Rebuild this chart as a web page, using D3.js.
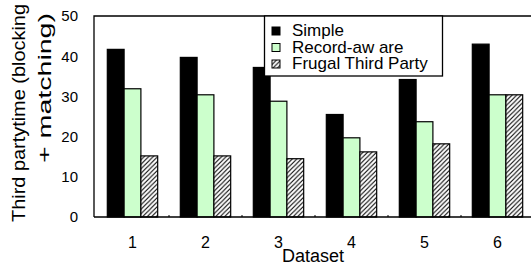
<!DOCTYPE html>
<html>
<head>
<meta charset="utf-8">
<script src="https://cdn.jsdelivr.net/npm/d3@7"></script>
<style>
body{margin:0;background:#fff}
svg{display:block}
text{font-family:"Liberation Sans",Arial,sans-serif;fill:#000}
</style>
</head>
<body>
<svg id="mySVG" width="531" height="266"></svg>
<script>
//---data---
var datasets=["1","2","3","4","5","6"]
var seriesNames=["Simple","Record-aw are","Frugal Third Party"]
var simpleVals=[41.7,39.7,37.2,25.5,34.2,43.0]
var recordVals=[31.9,30.4,28.8,19.7,23.7,30.4]
var frugalVals=[15.2,15.2,14.5,16.2,18.2,30.4]
var yTicks=[0,10,20,30,40,50]

var seriesVals=[simpleVals,recordVals,frugalVals]
var seriesFill=["#000","#ccffcc","url(#hatch)"]

var svg=d3.select("#mySVG")

//---hatch pattern---
var pat=svg.append("defs").append("pattern")
    .attr("id","hatch")
    .attr("patternUnits","userSpaceOnUse")
    .attr("width",4.5).attr("height",4.5)
pat.append("rect").attr("width",4.5).attr("height",4.5).attr("fill","#fff")
pat.append("path")
    .attr("d","M-1,1 L1,-1 M0,4.5 L4.5,0 M3.5,5.5 L5.5,3.5")
    .attr("stroke","#000").attr("stroke-width",1.1)

var plotLeft=94, plotTop=16, plotBottom=217

//---scales---
var x=d3.scaleBand().domain(datasets).range([96,534]).paddingInner(0.31).paddingOuter(0.155)
var xs=d3.scaleBand().domain(d3.range(3)).range([0,x.bandwidth()])
var y=d3.scaleLinear().domain([0,50]).range([plotBottom,plotTop])

//---bars---
var groups=svg.append("g").selectAll("g").data(datasets).enter().append("g")
    .attr("transform",function(d){return "translate("+x(d)+",0)"})
groups.selectAll("rect").data(function(d,i){
        return seriesVals.map(function(s,k){return {k:k,v:s[i]}})
    })
    .enter().append("rect")
    .attr("x",function(d){return xs(d.k)})
    .attr("width",xs.bandwidth())
    .attr("y",function(d){return y(d.v)})
    .attr("height",function(d){return plotBottom-y(d.v)})
    .attr("fill",function(d){return seriesFill[d.k]})
    .attr("stroke","#000").attr("stroke-width",1.2)

//---frame---
svg.append("path")
    .attr("d","M"+plotLeft+","+plotBottom+" L"+plotLeft+","+plotTop+" L540,"+plotTop+" M"+plotLeft+","+plotBottom+" L540,"+plotBottom)
    .attr("stroke","#000").attr("stroke-width",1.3).attr("fill","none")

//---small ticks between groups---
var step=x.step()
svg.append("g").selectAll("line").data(datasets.slice(1)).enter().append("line")
    .attr("x1",function(d){return x(d)-(step-x.bandwidth())/2})
    .attr("x2",function(d){return x(d)-(step-x.bandwidth())/2})
    .attr("y1",plotBottom-2).attr("y2",plotBottom)
    .attr("stroke","#000")

//---y axis labels---
var yAxis=svg.append("g").attr("transform","translate("+plotLeft+",0)")
    .call(d3.axisLeft(y).tickValues(yTicks).tickSize(0).tickPadding(16))
yAxis.select(".domain").remove()
yAxis.selectAll("text").attr("font-size",15).style("font-family","Liberation Sans,Arial,sans-serif")

//---x axis labels---
var xAxis=svg.append("g").attr("transform","translate(0,"+plotBottom+")")
    .call(d3.axisBottom(x).tickSize(0).tickPadding(20))
xAxis.select(".domain").remove()
xAxis.selectAll("text").attr("font-size",16).style("font-family","Liberation Sans,Arial,sans-serif")

//---titles---
svg.append("text").attr("x",313).attr("y",262).attr("text-anchor","middle")
    .attr("font-size",18).text("Dataset")
svg.append("text").attr("transform","translate(25,222) rotate(-90)")
    .attr("font-size",19).attr("textLength",218).attr("lengthAdjust","spacingAndGlyphs")
    .text("Third partytime (blocking")
svg.append("text").attr("transform","translate(51,163) rotate(-90)")
    .attr("font-size",19).attr("textLength",150).attr("lengthAdjust","spacingAndGlyphs")
    .text("+ matching)")

//---legend---
var leg=svg.append("g")
leg.append("rect").attr("x",264.5).attr("y",16).attr("width",178).attr("height",60)
    .attr("fill","#fff").attr("stroke","#000").attr("stroke-width",1.3)
var rows=leg.selectAll("g").data(seriesNames).enter().append("g")
    .attr("transform",function(d,i){return "translate(272,"+(27+i*16.5)+")"})
rows.append("rect").attr("width",8).attr("height",8)
    .attr("fill",function(d,i){return seriesFill[i]})
    .attr("stroke","#000").attr("stroke-width",1)
rows.append("text").attr("x",20).attr("y",9).attr("font-size",17)
    .text(function(d){return d})
</script>
</body>
</html>
